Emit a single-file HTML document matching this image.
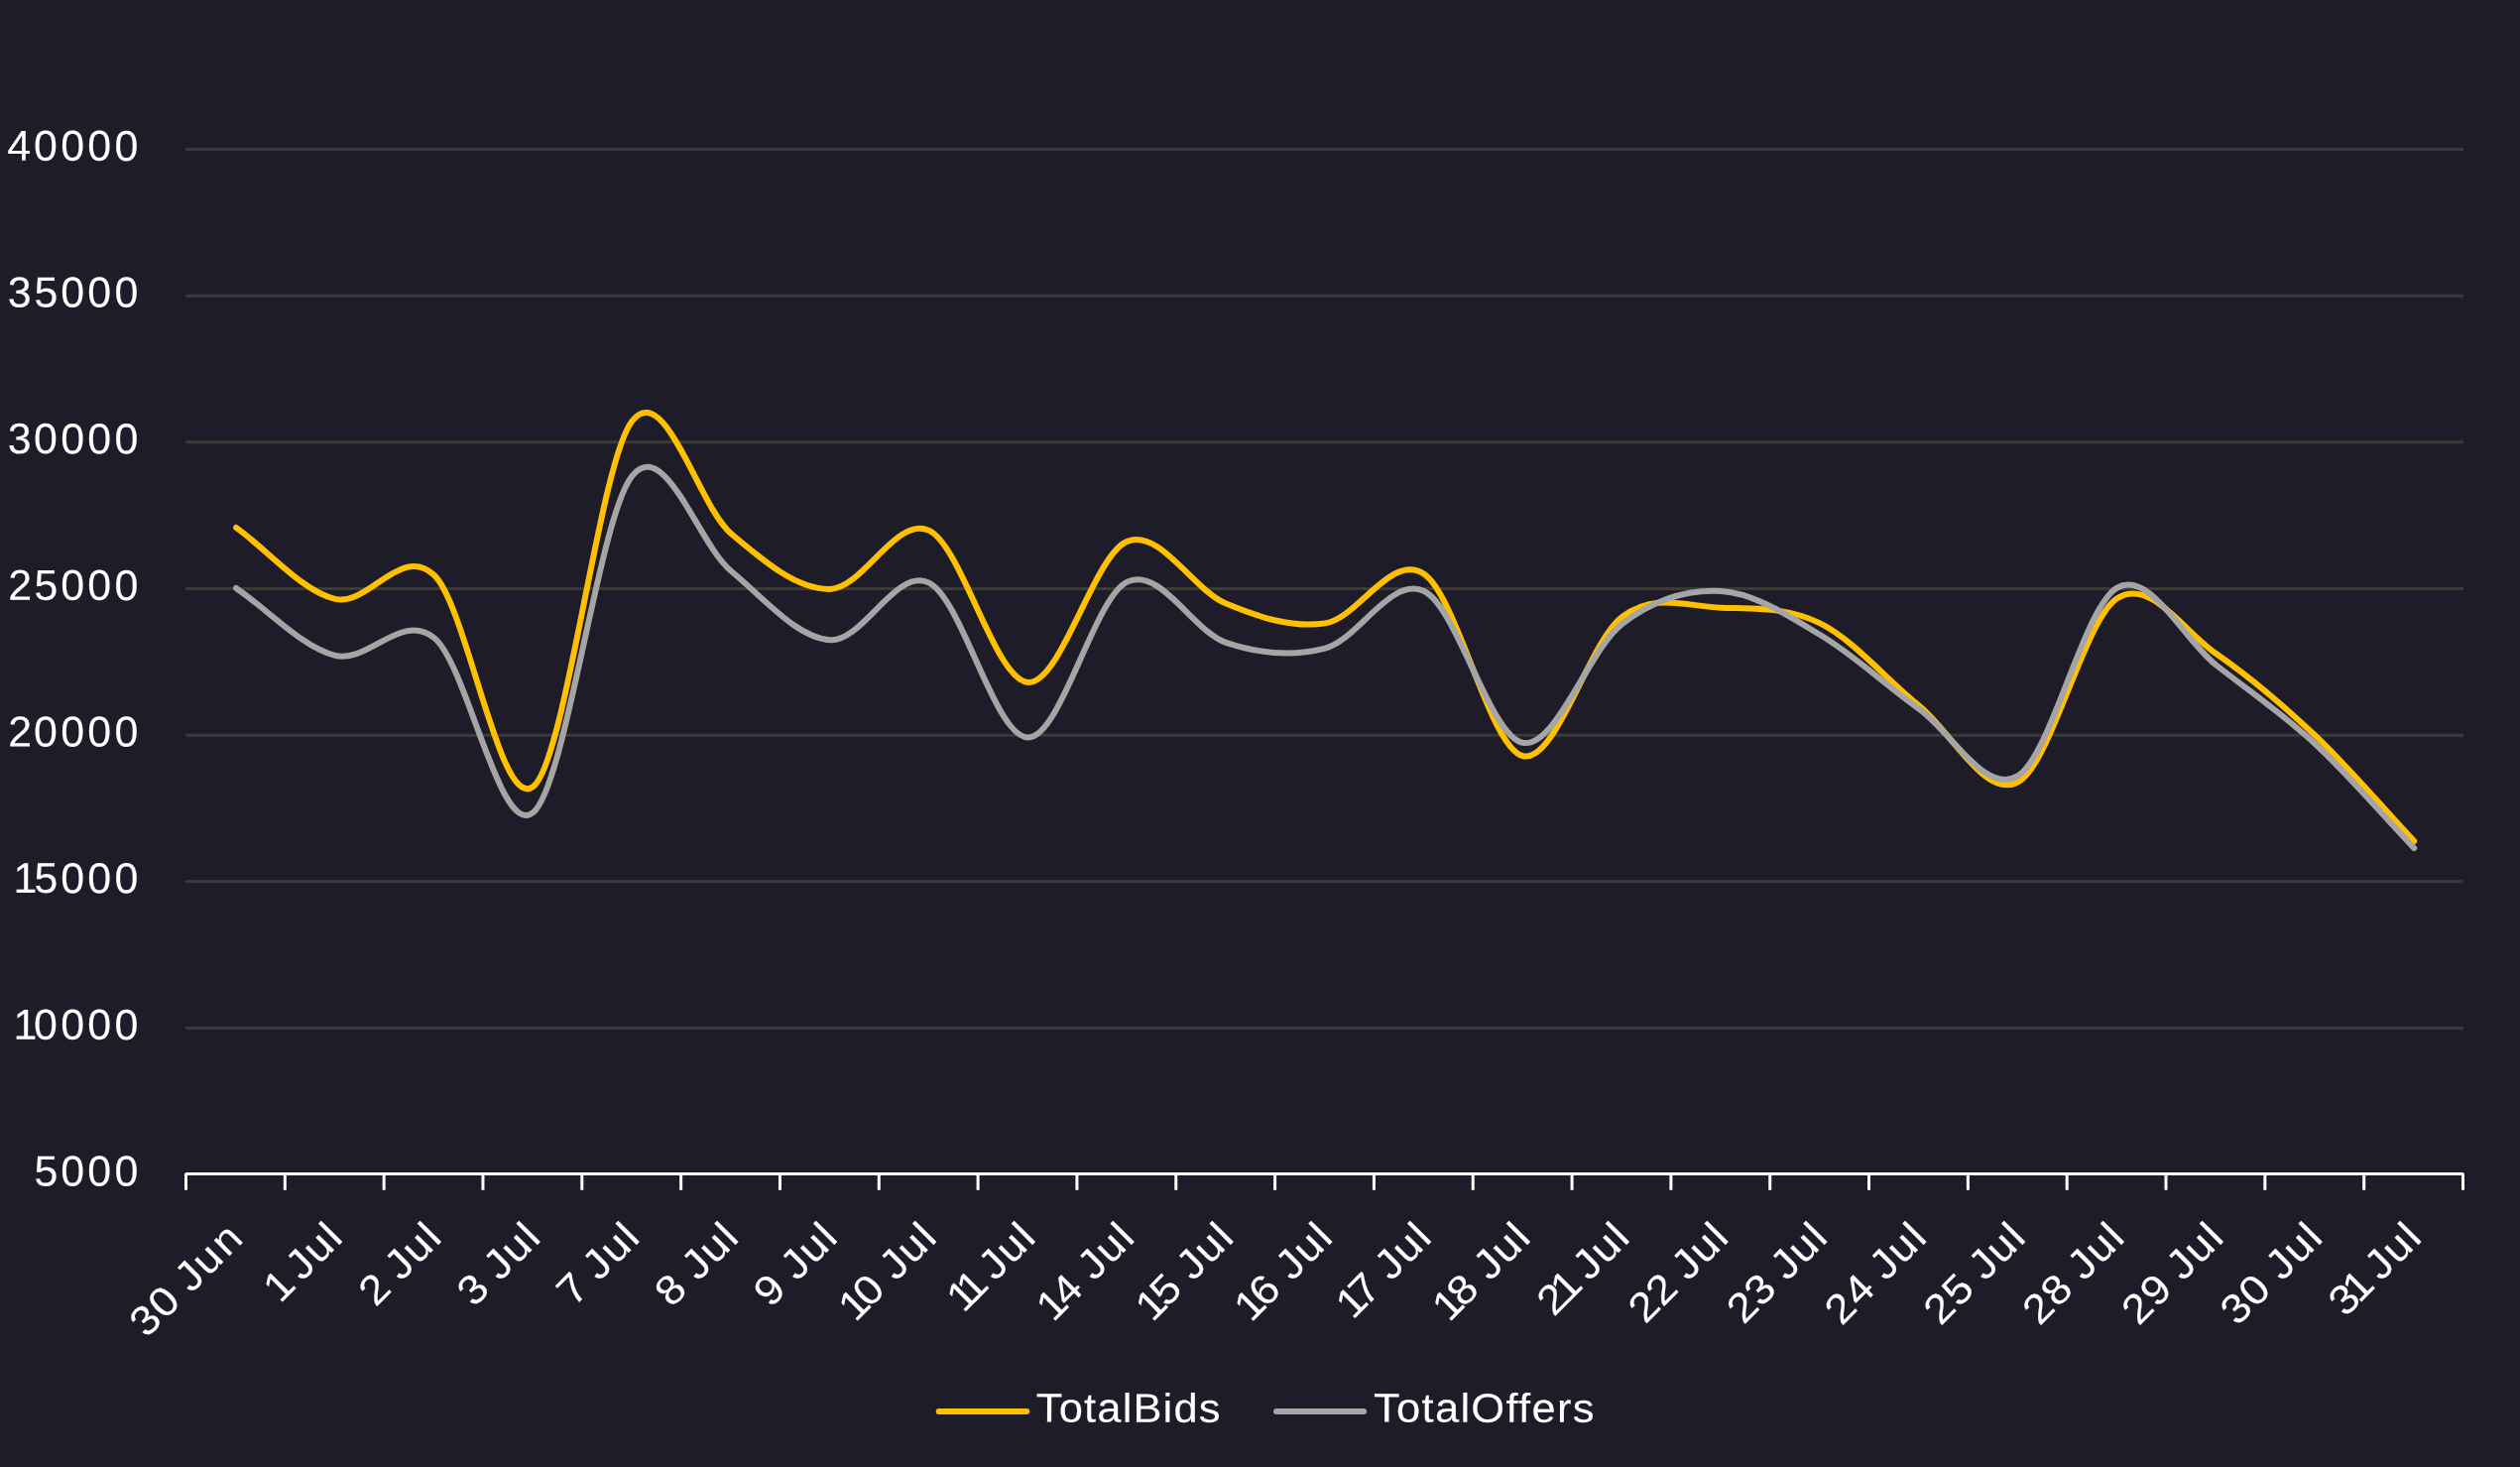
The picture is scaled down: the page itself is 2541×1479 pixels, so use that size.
<!DOCTYPE html>
<html lang="en"><head><meta charset="utf-8"><title>TotalBids vs TotalOffers</title>
<style>html,body{margin:0;padding:0;background:#1e1c29;}body{width:2541px;height:1479px;overflow:hidden;}svg{display:block;will-change:transform;}text{font-family:"Liberation Sans",sans-serif;fill:#fff;stroke:#fff;stroke-width:0.10px;white-space:pre;}</style></head><body>
<svg width="2541" height="1479" viewBox="0 0 2541 1479">
<rect width="2541" height="1479" fill="#1e1c29"/>
<g stroke="#3b3a38" stroke-width="3.00" fill="none">
<line x1="187.2" y1="150.50" x2="2483.8" y2="150.50"/>
<line x1="187.2" y1="298.17" x2="2483.8" y2="298.17"/>
<line x1="187.2" y1="445.84" x2="2483.8" y2="445.84"/>
<line x1="187.2" y1="593.51" x2="2483.8" y2="593.51"/>
<line x1="187.2" y1="741.18" x2="2483.8" y2="741.18"/>
<line x1="187.2" y1="888.85" x2="2483.8" y2="888.85"/>
<line x1="187.2" y1="1036.52" x2="2483.8" y2="1036.52"/>
</g>
<g stroke="#fff" stroke-width="3.00" fill="none">
<polyline stroke-linejoin="bevel" points="187.50,1199.80 187.50,1183.50 2483.50,1183.50 2483.50,1199.80"/>
<line x1="287.33" y1="1183.50" x2="287.33" y2="1199.80"/>
<line x1="387.15" y1="1183.50" x2="387.15" y2="1199.80"/>
<line x1="486.98" y1="1183.50" x2="486.98" y2="1199.80"/>
<line x1="586.80" y1="1183.50" x2="586.80" y2="1199.80"/>
<line x1="686.63" y1="1183.50" x2="686.63" y2="1199.80"/>
<line x1="786.46" y1="1183.50" x2="786.46" y2="1199.80"/>
<line x1="886.28" y1="1183.50" x2="886.28" y2="1199.80"/>
<line x1="986.11" y1="1183.50" x2="986.11" y2="1199.80"/>
<line x1="1085.93" y1="1183.50" x2="1085.93" y2="1199.80"/>
<line x1="1185.76" y1="1183.50" x2="1185.76" y2="1199.80"/>
<line x1="1285.59" y1="1183.50" x2="1285.59" y2="1199.80"/>
<line x1="1385.41" y1="1183.50" x2="1385.41" y2="1199.80"/>
<line x1="1485.24" y1="1183.50" x2="1485.24" y2="1199.80"/>
<line x1="1585.07" y1="1183.50" x2="1585.07" y2="1199.80"/>
<line x1="1684.89" y1="1183.50" x2="1684.89" y2="1199.80"/>
<line x1="1784.72" y1="1183.50" x2="1784.72" y2="1199.80"/>
<line x1="1884.54" y1="1183.50" x2="1884.54" y2="1199.80"/>
<line x1="1984.37" y1="1183.50" x2="1984.37" y2="1199.80"/>
<line x1="2084.20" y1="1183.50" x2="2084.20" y2="1199.80"/>
<line x1="2184.02" y1="1183.50" x2="2184.02" y2="1199.80"/>
<line x1="2283.85" y1="1183.50" x2="2283.85" y2="1199.80"/>
<line x1="2383.67" y1="1183.50" x2="2383.67" y2="1199.80"/>
</g>
<path d="M238.06,531.90 C271.34,555.90 304.61,595.92 337.89,603.90 C371.16,611.88 404.44,548.25 437.72,579.80 C470.99,611.35 504.27,819.08 537.54,793.20 C570.82,767.32 604.09,467.03 637.37,424.50 C670.64,381.97 703.92,509.77 737.19,538.00 C770.47,566.23 803.74,594.42 837.02,593.90 C870.29,593.38 903.57,519.22 936.85,534.90 C970.12,550.58 1003.40,686.17 1036.67,688.00 C1069.95,689.83 1103.22,559.13 1136.50,545.90 C1169.77,532.67 1203.05,594.85 1236.32,608.60 C1269.60,622.35 1302.87,633.37 1336.15,628.40 C1369.43,623.43 1402.70,556.48 1435.98,578.80 C1469.25,601.12 1502.53,755.10 1535.80,762.30 C1569.08,769.50 1602.35,646.93 1635.63,622.00 C1668.90,597.07 1702.18,611.63 1735.45,612.70 C1768.73,613.77 1802.01,611.93 1835.28,628.40 C1868.56,644.87 1901.83,684.83 1935.11,711.50 C1968.38,738.17 2001.66,806.43 2034.93,788.40 C2068.21,770.37 2101.48,624.87 2134.76,603.30 C2168.03,581.73 2201.31,635.97 2234.58,659.00 C2267.86,682.03 2301.14,710.00 2334.41,741.50 C2367.69,773.00 2400.96,812.50 2434.24,848.00" fill="none" stroke="#ffc000" stroke-width="6.00" stroke-linecap="round" stroke-linejoin="round"/>
<path d="M238.06,592.90 C271.34,615.57 304.61,652.55 337.89,660.90 C371.16,669.25 404.44,616.60 437.72,643.00 C470.99,669.40 504.27,846.50 537.54,819.30 C570.82,792.10 604.09,520.40 637.37,479.80 C670.64,439.20 703.92,548.12 737.19,575.70 C770.47,603.28 803.74,643.32 837.02,645.30 C870.29,647.28 903.57,571.23 936.85,587.60 C970.12,603.97 1003.40,743.67 1036.67,743.50 C1069.95,743.33 1103.22,602.55 1136.50,586.60 C1169.77,570.65 1203.05,636.62 1236.32,647.80 C1269.60,658.98 1302.87,662.33 1336.15,653.70 C1369.43,645.07 1402.70,580.13 1435.98,596.00 C1469.25,611.87 1502.53,743.40 1535.80,748.90 C1569.08,754.40 1602.35,654.48 1635.63,629.00 C1668.90,603.52 1702.18,594.17 1735.45,596.00 C1768.73,597.83 1802.01,620.22 1835.28,640.00 C1868.56,659.78 1901.83,691.02 1935.11,714.70 C1968.38,738.38 2001.66,802.45 2034.93,782.10 C2068.21,761.75 2101.48,611.20 2134.76,592.60 C2168.03,574.00 2201.31,644.27 2234.58,670.50 C2267.86,696.73 2301.14,719.23 2334.41,750.00 C2367.69,780.77 2400.96,820.07 2434.24,855.10" fill="none" stroke="#a5a5a5" stroke-width="6.00" stroke-linecap="round" stroke-linejoin="round"/>
<text transform="translate(0,161.70) rotate(0.100) scale(0.9900,1)" font-size="43.30" x="7.45 34.45 61.85 89.25 116.65">40000</text>
<text transform="translate(0,309.37) rotate(0.100) scale(0.9900,1)" font-size="43.30" x="7.81 34.83 61.85 89.25 116.65">35000</text>
<text transform="translate(0,457.04) rotate(0.100) scale(0.9900,1)" font-size="43.30" x="7.81 34.45 61.85 89.25 116.65">30000</text>
<text transform="translate(0,604.71) rotate(0.100) scale(0.9900,1)" font-size="43.30" x="8.42 34.83 61.85 89.25 116.65">25000</text>
<text transform="translate(0,752.38) rotate(0.100) scale(0.9900,1)" font-size="43.30" x="8.42 34.45 61.85 89.25 116.65">20000</text>
<text transform="translate(0,900.05) rotate(0.100) scale(0.9900,1)" font-size="43.30" x="13.72 34.83 61.85 89.25 116.65">15000</text>
<text transform="translate(0,1047.72) rotate(0.100) scale(0.9900,1)" font-size="43.30" x="13.72 34.45 61.85 89.25 116.65">10000</text>
<text transform="translate(0,1195.39) rotate(0.100) scale(0.9900,1)" font-size="43.30" x="34.83 61.85 89.25 116.65">5000</text>
<text transform="translate(245.21,1252.20) rotate(-45) scale(1.0700,1)" font-size="41.60" x="-128.92 -104.51 -81.37 -69.10 -46.97 -21.23">30 Jun</text>
<text transform="translate(345.04,1252.20) rotate(-45) scale(1.0700,1)" font-size="41.60" x="-82.67 -59.53 -53.40 -31.26 -6.41">1 Jul</text>
<text transform="translate(444.87,1252.20) rotate(-45) scale(1.0700,1)" font-size="41.60" x="-87.54 -64.40 -53.40 -31.26 -6.41">2 Jul</text>
<text transform="translate(544.69,1252.20) rotate(-45) scale(1.0700,1)" font-size="41.60" x="-88.10 -64.97 -53.40 -31.26 -6.41">3 Jul</text>
<text transform="translate(644.52,1252.20) rotate(-45) scale(1.0700,1)" font-size="41.60" x="-87.30 -64.16 -53.40 -31.26 -6.41">7 Jul</text>
<text transform="translate(744.34,1252.20) rotate(-45) scale(1.0700,1)" font-size="41.60" x="-88.78 -65.64 -53.40 -31.26 -6.41">8 Jul</text>
<text transform="translate(844.17,1252.20) rotate(-45) scale(1.0700,1)" font-size="41.60" x="-88.64 -65.50 -53.40 -31.26 -6.41">9 Jul</text>
<text transform="translate(944.00,1252.20) rotate(-45) scale(1.0700,1)" font-size="41.60" x="-107.79 -88.81 -65.67 -53.40 -31.26 -6.41">10 Jul</text>
<text transform="translate(1043.82,1252.20) rotate(-45) scale(1.0700,1)" font-size="41.60" x="-95.70 -82.67 -59.53 -53.40 -31.26 -6.41">11 Jul</text>
<text transform="translate(1143.65,1252.20) rotate(-45) scale(1.0700,1)" font-size="41.60" x="-107.83 -88.44 -65.30 -53.40 -31.26 -6.41">14 Jul</text>
<text transform="translate(1243.47,1252.20) rotate(-45) scale(1.0700,1)" font-size="41.60" x="-107.79 -88.46 -65.33 -53.40 -31.26 -6.41">15 Jul</text>
<text transform="translate(1343.30,1252.20) rotate(-45) scale(1.0700,1)" font-size="41.60" x="-108.06 -88.80 -65.66 -53.40 -31.26 -6.41">16 Jul</text>
<text transform="translate(1443.13,1252.20) rotate(-45) scale(1.0700,1)" font-size="41.60" x="-104.57 -87.30 -64.16 -53.40 -31.26 -6.41">17 Jul</text>
<text transform="translate(1542.95,1252.20) rotate(-45) scale(1.0700,1)" font-size="41.60" x="-107.90 -88.78 -65.64 -53.40 -31.26 -6.41">18 Jul</text>
<text transform="translate(1642.78,1252.20) rotate(-45) scale(1.0700,1)" font-size="41.60" x="-100.57 -82.67 -59.53 -53.40 -31.26 -6.41">21 Jul</text>
<text transform="translate(1742.60,1252.20) rotate(-45) scale(1.0700,1)" font-size="41.60" x="-110.58 -87.54 -64.40 -53.40 -31.26 -6.41">22 Jul</text>
<text transform="translate(1842.43,1252.20) rotate(-45) scale(1.0700,1)" font-size="41.60" x="-111.13 -88.10 -64.97 -53.40 -31.26 -6.41">23 Jul</text>
<text transform="translate(1942.26,1252.20) rotate(-45) scale(1.0700,1)" font-size="41.60" x="-112.70 -88.44 -65.30 -53.40 -31.26 -6.41">24 Jul</text>
<text transform="translate(2042.08,1252.20) rotate(-45) scale(1.0700,1)" font-size="41.60" x="-112.66 -88.46 -65.33 -53.40 -31.26 -6.41">25 Jul</text>
<text transform="translate(2141.91,1252.20) rotate(-45) scale(1.0700,1)" font-size="41.60" x="-112.78 -88.78 -65.64 -53.40 -31.26 -6.41">28 Jul</text>
<text transform="translate(2241.73,1252.20) rotate(-45) scale(1.0700,1)" font-size="41.60" x="-112.74 -88.64 -65.50 -53.40 -31.26 -6.41">29 Jul</text>
<text transform="translate(2341.56,1252.20) rotate(-45) scale(1.0700,1)" font-size="41.60" x="-113.22 -88.81 -65.67 -53.40 -31.26 -6.41">30 Jul</text>
<text transform="translate(2441.39,1252.20) rotate(-45) scale(1.0700,1)" font-size="41.60" x="-101.13 -82.67 -59.53 -53.40 -31.26 -6.41">31 Jul</text>
<g stroke-width="6.00" stroke-linecap="round" fill="none">
<line x1="946.7" y1="1423.0" x2="1035.2" y2="1423.0" stroke="#ffc000"/>
<line x1="1287.0" y1="1423.0" x2="1375.1" y2="1423.0" stroke="#a5a5a5"/>
</g>
<text transform="translate(1044.80,1433.50) rotate(0.100) scale(1.0550,1)" font-size="41.20" x="0" textLength="176.02" lengthAdjust="spacing">TotalBids</text>
<text transform="translate(1385.00,1433.50) rotate(0.100) scale(1.0550,1)" font-size="41.20" x="0" textLength="210.90" lengthAdjust="spacing">TotalOffers</text>
</svg></body></html>
